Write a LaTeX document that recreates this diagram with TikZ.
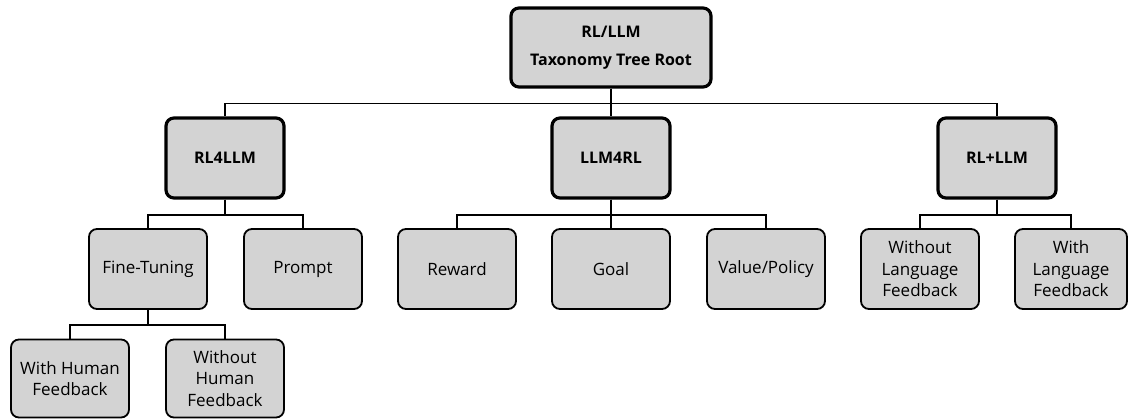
\documentclass[tikz,border=0pt]{standalone}
\usepackage{fontspec}
\setmainfont{Open Sans}
\usetikzlibrary{positioning}
\definecolor{boxgray}{RGB}{211,211,211}

\begin{document}
\begin{tikzpicture}[x=1pt, y=1pt,
		every node/.style={font=\fontsize{17}{21.5}\selectfont, align=center, inner sep=0pt},
		leaf/.style={draw, line width=1.8pt, fill=boxgray, rounded corners=8pt, minimum width=118, minimum height=80},
		branch/.style={leaf, line width=3.2pt, font=\fontsize{16}{21.5}\selectfont\bfseries},
		link/.style={line width=1.8pt}]
			\useasboundingbox (0,0) rectangle (1128,-419);

			% Root
			\node[branch, minimum width=200, minimum height=79] (root) at (611,-47.5) {RL/LLM\\[7pt]Taxonomy Tree Root};

			% First level
			\node[branch] (rlfour) at (225,-158) {RL4LLM};
			\node[branch] (llmfour) at (611,-158) {LLM4RL};
			\node[branch] (rlplus) at (997,-158) {RL+LLM};

			% Second level
			\node[leaf] (finetune) at (148,-269) {Fine-Tuning};
			\node[leaf] (prompt) at (303,-269) {Prompt};
			\node[leaf] (reward) at (457,-269) {Reward};
			\node[leaf] (goal) at (611,-269) {Goal};
			\node[leaf] (valpol) at (766,-269) {Value/Policy};
			\node[leaf] (wolang) at (920,-269) {Without\\Language\\Feedback};
			\node[leaf, minimum width=112] (wlang) at (1071,-269) {With\\Language\\Feedback};

			% Third level
			\node[leaf, minimum height=78] (whuman) at (70,-378.5) {With Human\\Feedback};
			\node[leaf, minimum height=78] (wohuman) at (225,-378.5) {Without\\Human\\Feedback};

			% Connectors
			\foreach \child in {rlfour, llmfour, rlplus}
				\draw[link] (root.south) -- ++(0,-15) -| (\child.north);
			\foreach \child in {finetune, prompt}
				\draw[link] (rlfour.south) -- ++(0,-15.5) -| (\child.north);
			\foreach \child in {reward, goal, valpol}
				\draw[link] (llmfour.south) -- ++(0,-15.5) -| (\child.north);
			\foreach \child in {wolang, wlang}
				\draw[link] (rlplus.south) -- ++(0,-15.5) -| (\child.north);
			\foreach \child in {whuman, wohuman}
				\draw[link] (finetune.south) -- ++(0,-15.5) -| (\child.north);
		\end{tikzpicture}
\end{document}
